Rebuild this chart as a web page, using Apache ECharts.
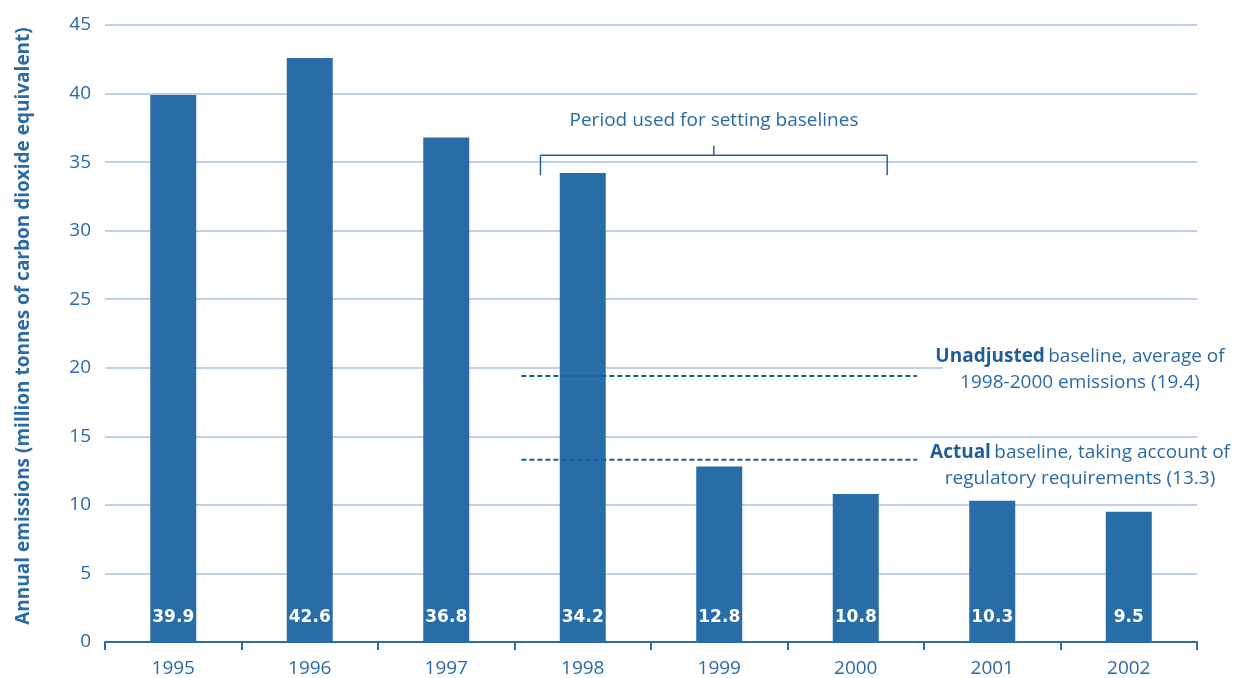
<!DOCTYPE html>
<html>
<head>
<meta charset="utf-8">
<script src="https://cdn.jsdelivr.net/npm/echarts@6/dist/echarts.min.js"></script>
<style>html,body{margin:0;padding:0;background:#fff}#c{width:1249px;height:678px}</style>
</head>
<body>
<div id="c"></div>
<script>
// ---- data ----
const years = ['1995','1996','1997','1998','1999','2000','2001','2002'];
const emissions = [39.9, 42.6, 36.8, 34.2, 12.8, 10.8, 10.3, 9.5];
const yTicks = {min: 0, max: 45, interval: 5};
const unadjustedBaseline = 19.4;
const actualBaseline = 13.3;
// baseline dashed segments span (category index units)
const baselineSpan = [2.55, 5.45];
// bracket for the baseline period (category index units, value units)
const bracketX = [2.69, 5.23];
const bracketMidX = 3.96;
const bracketY = [34.05, 35.5, 36.2];

const yTitle = 'Annual emissions (million tonnes of carbon dioxide equivalent)';
const periodText = 'Period used for setting baselines';

const BLUE = '#286ca8';
const TXT = '#2a6aa6';
const GRID = '#a9c2e1';
const FONT = '"Open Sans", sans-serif';

const chart = echarts.init(document.getElementById('c'), null, {renderer: 'canvas'});

const dashStyle = {color: '#1a5c9c', width: 2, type: [5, 3]};

chart.setOption({
  animation: false,
  backgroundColor: '#fff',
  grid: {left: 105, right: 52, top: 25, bottom: 36, containLabel: false},
  xAxis: [{
    type: 'category',
    data: years,
    boundaryGap: true,
    axisLine: {show: true, lineStyle: {color: BLUE, width: 2}},
    axisTick: {show: true, length: 8, lineStyle: {color: BLUE, width: 2}},
    axisLabel: {color: TXT, fontFamily: FONT, fontSize: 19, margin: 17},
    splitLine: {show: false}
  }, {
    type: 'value', min: -0.5, max: 7.5, show: false
  }],
  yAxis: {
    type: 'value',
    min: yTicks.min, max: yTicks.max, interval: yTicks.interval,
    axisLine: {show: false},
    axisTick: {show: false},
    axisLabel: {color: TXT, fontFamily: FONT, fontSize: 19, margin: 14},
    splitLine: {show: true, lineStyle: {color: GRID, width: 1.5}}
  },
  series: [{
    type: 'bar',
    data: emissions,
    barWidth: 46,
    itemStyle: {color: BLUE},
    label: {
      show: true, position: 'insideBottom', distance: 16,
      color: '#fff', fontFamily: '"DejaVu Sans", sans-serif', fontWeight: 'bold', fontSize: 17,
      formatter: p => p.value.toFixed(1)
    },
    z: 2
  }, {
    type: 'line', xAxisIndex: 1, symbol: 'none', silent: true,
    data: [[baselineSpan[0], unadjustedBaseline], [baselineSpan[1], unadjustedBaseline]],
    lineStyle: dashStyle, z: 5
  }, {
    type: 'line', xAxisIndex: 1, symbol: 'none', silent: true,
    data: [[baselineSpan[0], actualBaseline], [baselineSpan[1], actualBaseline]],
    lineStyle: dashStyle, z: 5
  }, {
    type: 'line', xAxisIndex: 1, symbol: 'none', silent: true,
    data: [[bracketX[0], bracketY[0]], [bracketX[0], bracketY[1]], [bracketX[1], bracketY[1]], [bracketX[1], bracketY[0]]],
    lineStyle: {color: '#2a5f96', width: 1.5}, z: 5
  }, {
    type: 'line', xAxisIndex: 1, symbol: 'none', silent: true,
    data: [[bracketMidX, bracketY[1]], [bracketMidX, bracketY[2]]],
    lineStyle: {color: '#2a5f96', width: 1.5}, z: 5
  }],
  graphic: [
    {type: 'rect', shape: {x: 943, y: 365, width: 260, height: 8}, style: {fill: '#fff'}, z: 100},
    {type: 'text', x: 24, y: 326, rotation: Math.PI / 2, z: 100,
      style: {text: yTitle, fill: TXT, font: 'bold 19px "Open Sans", sans-serif', align: 'center', verticalAlign: 'middle'}},
    {type: 'text', x: 714, y: 121, z: 100,
      style: {text: periodText, fill: TXT, font: '19px "Open Sans", sans-serif', align: 'center', verticalAlign: 'middle'}},
    {type: 'text', x: 1080, y: 370, z: 100,
      style: {
        text: '{b|Unadjusted} {n|baseline, average of}\n{n|1998-2000 emissions (19.4)}',
        align: 'center', verticalAlign: 'middle', fill: TXT,
        rich: {
          b: {fontFamily: FONT, fontSize: 19, fontWeight: 'bold', fill: '#1f5d99', lineHeight: 26},
          n: {fontFamily: FONT, fontSize: 19, fill: TXT, lineHeight: 26}
        }
      }},
    {type: 'text', x: 1080, y: 466, z: 100,
      style: {
        text: '{b|Actual} {n|baseline, taking account of}\n{n|regulatory requirements (13.3)}',
        align: 'center', verticalAlign: 'middle', fill: TXT,
        rich: {
          b: {fontFamily: FONT, fontSize: 19, fontWeight: 'bold', fill: '#1f5d99', lineHeight: 26},
          n: {fontFamily: FONT, fontSize: 19, fill: TXT, lineHeight: 26}
        }
      }}
  ]
});
</script>
</body>
</html>
